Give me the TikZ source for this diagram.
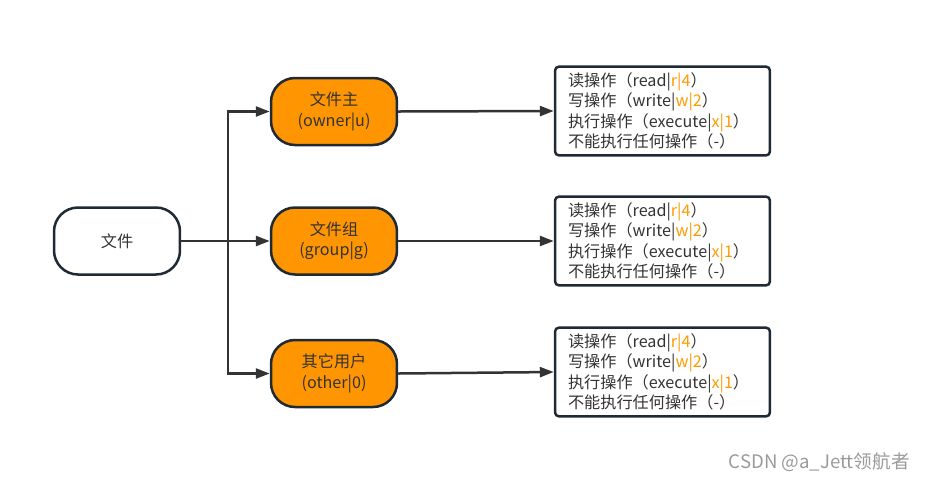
\documentclass[tikz,border=0pt]{standalone}
\usepackage{fontspec}
\setmainfont{Noto Sans CJK SC}
\usetikzlibrary{arrows.meta}

\definecolor{darkline}{HTML}{333333}
\definecolor{boxedge}{HTML}{1F2A35}
\definecolor{userfill}{HTML}{FF9500}
\definecolor{permhl}{HTML}{FF9900}
\definecolor{marktext}{HTML}{9A9A9A}
\newcommand{\hlperm}[1]{\textcolor{permhl}{#1}}
\newcommand{\permlist}{%
  读操作（read|\hlperm{r|4}）\\
  写操作（write|\hlperm{w|2}）\\
  执行操作（execute|\hlperm{x|1}）\\
  不能执行任何操作（-）}

\begin{document}
\begin{tikzpicture}[x=0.02cm,y=-0.02cm,
    txt/.style={text=darkline,font=\fontsize{9.2}{11.7}\selectfont},
    roundbox/.style={txt,draw=boxedge,line width=0.05cm,rounded corners=0.48cm,
      minimum width=2.52cm,minimum height=1.34cm,align=center},
    userbox/.style={roundbox,fill=userfill},
    permbox/.style={txt,draw=boxedge,line width=0.05cm,rounded corners=0.08cm,
      minimum width=4.3cm,minimum height=1.72cm,inner xsep=0.26cm,
      text width=3.78cm,align=left},
    link/.style={draw=darkline,line width=0.05cm},
    arrow/.style={link,-{Triangle[length=0.28cm,width=0.2cm]}}]
  \useasboundingbox (0,0) rectangle (928,481);

  %% file and the three kinds of user
  \node[roundbox] (file) at (117,241) {文件};
  \node[userbox] (owner) at (334,111.5) {文件主\\(owner|u)};
  \node[userbox] (group) at (334,241) {文件组\\(group|g)};
  \node[userbox] (other) at (334,373.5) {其它用户\\(other|0)};

  %% permission boxes
  \node[permbox] (ownerperm) at (662.5,111) {\permlist};
  \node[permbox] (groupperm) at (662.5,241) {\permlist};
  \node[permbox] (otherperm) at (662.5,372) {\permlist};

  %% branch point
  \coordinate (fork) at (228,241);
  \draw[arrow] (file.east) -- (group.west);
  \draw[arrow] (fork) |- (owner.west);
  \draw[arrow] (fork) |- (other.west);

  \draw[arrow] (owner.east) -- (ownerperm.west);
  \draw[arrow] (group.east) -- (groupperm.west);
  \draw[arrow] (other.east) -- (otherperm.west);

  \node[anchor=east,text=marktext,font=\fontsize{10.6}{12}\selectfont] (watermark) at (916,462) {CSDN @a\_Jett领航者};
\end{tikzpicture}
\end{document}
